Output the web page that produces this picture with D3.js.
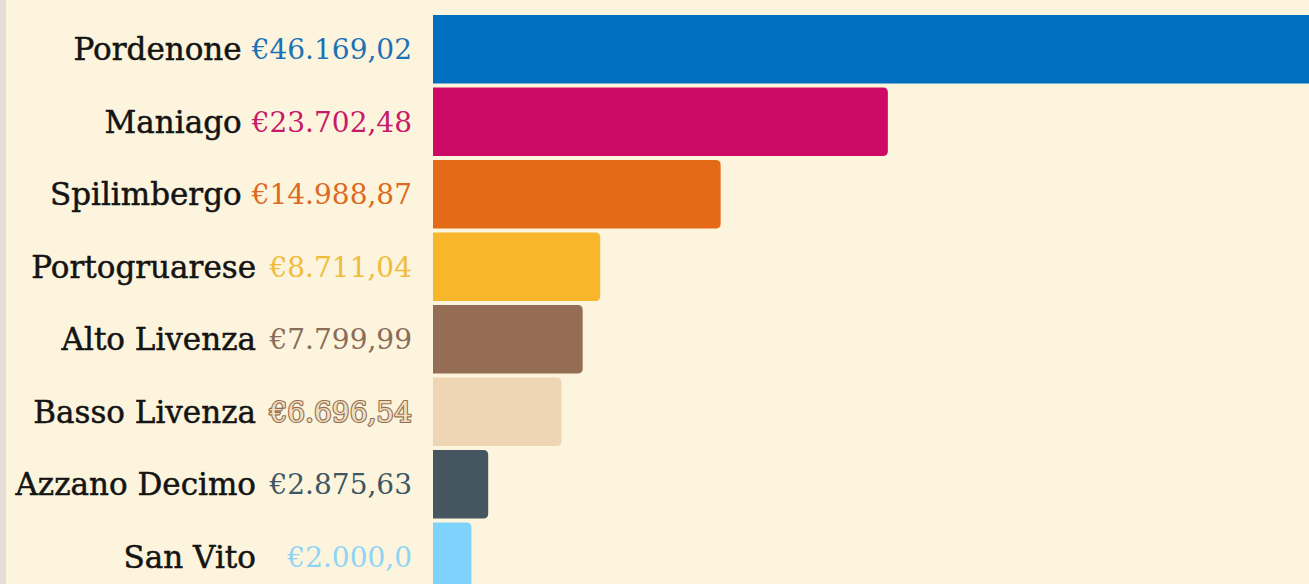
<!DOCTYPE html>
<html>
<head>
<meta charset="utf-8">
<script src="https://cdn.jsdelivr.net/npm/d3@7"></script>
<style>
  html, body { margin: 0; padding: 0; background: #fcf4dc; overflow: hidden; }
  svg { display: block; }
  text { font-family: "DejaVu Serif", serif; }
</style>
</head>
<body>
<svg id="chart"></svg>
<script>
// dati
const names = ["Pordenone", "Maniago", "Spilimbergo", "Portogruarese", "Alto Livenza", "Basso Livenza", "Azzano Decimo", "San Vito"];
const values = [46169.02, 23702.48, 14988.87, 8711.04, 7799.99, 6696.54, 2875.63, 2000.0];
const labels = ["€46.169,02", "€23.702,48", "€14.988,87", "€8.711,04", "€7.799,99", "€6.696,54", "€2.875,63", "€2.000,0"];
const barColors = ["#006fbf", "#cc0a66", "#e56a17", "#f8b62b", "#946d54", "#eed5b4", "#455660", "#7ed3fc"];
const textColors = ["#1b72b8", "#c8196a", "#dd6a22", "#f0bc3a", "#8a6c58", "#f1dcc0", "#3f5664", "#8fd4f5"];

const width = 1309, height = 584;
const barLeft = 433;

const svg = d3.select("#chart").attr("width", width).attr("height", height);

// sfondo + striscia a sinistra
svg.append("rect").attr("width", width).attr("height", height).attr("fill", "#fcf4dc");
svg.append("rect").attr("width", 6).attr("height", height).attr("fill", "#e6ddd6");

const x = d3.scaleLinear()
    .domain([0, values[0]])
    .range([0, 886]);

const y = d3.scaleBand()
    .domain(names)
    .range([15, 591])
    .paddingInner(0.055)
    .paddingOuter(0);

// barra con angoli arrotondati solo a destra
function barPath(w, h, r) {
    r = Math.min(r, w / 2, h / 2);
    return `M0,0H${w - r}Q${w},0 ${w},${r}V${h - r}Q${w},${h} ${w - r},${h}H0Z`;
}

const rows = svg.selectAll("g.row")
    .data(names.map((n, i) => ({ name: n, value: values[i], label: labels[i], i })))
    .enter().append("g")
    .attr("class", "row")
    .attr("transform", d => `translate(0,${y(d.name)})`);

rows.append("path")
    .attr("transform", `translate(${barLeft},0)`)
    .attr("d", d => barPath(x(d.value), y.bandwidth(), 5))
    .attr("fill", d => barColors[d.i]);

const mid = y.bandwidth() / 2;

// valori (Basso Livenza ha il testo contornato)
rows.append("text")
    .attr("x", 412)
    .attr("y", mid + 10)
    .attr("text-anchor", "end")
    .style("font-size", "28px")
    .style("paint-order", "stroke")
    .attr("fill", d => textColors[d.i])
    .attr("stroke", d => d.name === "Basso Livenza" ? "#8f6e50" : "none")
    .attr("stroke-width", 2.2)
    .attr("stroke-linejoin", "round")
    .text(d => d.label);

// nomi
rows.each(function (d) {
    const vw = d3.select(this).select("text").node().getComputedTextLength();
    const end = Math.min(412 - vw - 10, 256);
    d3.select(this).append("text")
        .attr("x", end)
        .attr("y", mid + 11)
        .attr("text-anchor", "end")
        .style("font-size", "31px")
        .attr("fill", "#141414")
        .attr("stroke", "#141414")
        .attr("stroke-width", 0.5)
        .text(d.name);
});
</script>
</body>
</html>
